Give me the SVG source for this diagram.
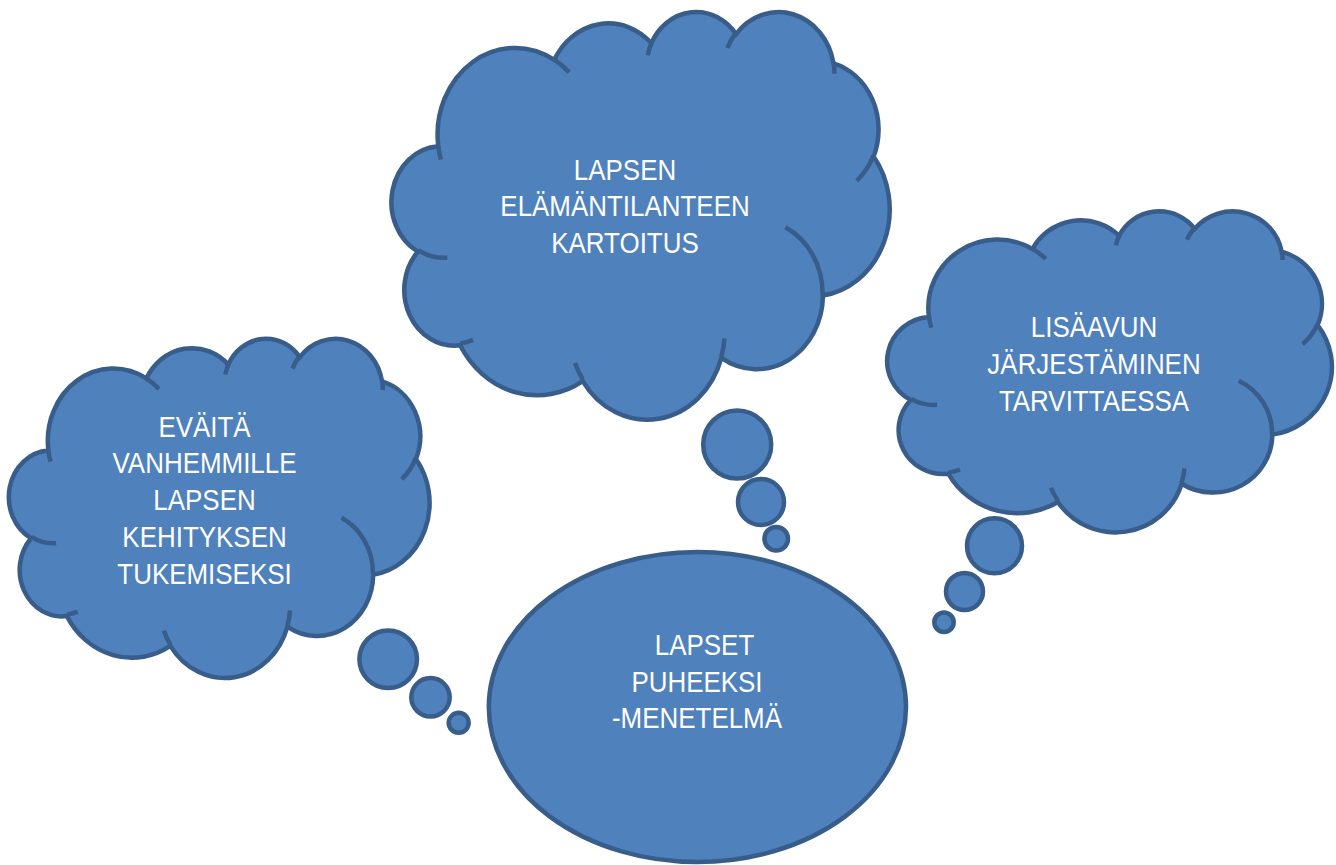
<svg xmlns="http://www.w3.org/2000/svg" xmlns:xlink="http://www.w3.org/1999/xlink" width="1336" height="865" viewBox="0 0 1336 865">
  <style>
    .shape { fill: #4F81BD; stroke: #385D8A; stroke-width: 4.5; }
    .detail { fill: none; stroke: #385D8A; stroke-width: 4.5; }
    .ns { vector-effect: non-scaling-stroke; }
    .label { fill: #FFFFFF; font-family: "Liberation Sans", Arial, sans-serif; font-size: 30px; text-anchor: middle; }
  </style>
  <defs>
    <path id="cloudOutline" class="shape ns" d="M3900 14370 A6753 9190 0 0 1 14005 5203 A5333 7267 0 0 1 22456 3433 A4365 5945 0 0 1 29833 2481 A4857 6595 0 0 1 38319 5575 A5333 7273 0 0 1 41819 15459 A6775 9220 0 0 1 37405 30202 A5785 7867 0 0 1 28556 36812 A6752 9215 0 0 1 16481 39265 A7720 10543 0 0 1 5805 35469 A4360 5918 0 0 1 2114 25547 A4345 5945 0 0 1 3900 14370 Z"/>
    <path id="cloudDetail" class="detail ns" d="M4693 26177 A4345 5945 0 0 1 2160 25380 M6928 34899 A4360 5918 0 0 1 5820 35281 M16478 39090 A6752 9215 0 0 1 15809 37349 M28827 34751 A6752 9215 0 0 1 28560 36660 M34129 22954 A5785 7867 0 0 1 37380 30090 M41798 15354 A5333 7273 0 0 1 40349 18031 M38324 5426 A4857 6595 0 0 1 38401 6690 M29078 3952 A4857 6595 0 0 1 29819 2341 M22141 4720 A4365 5945 0 0 1 22500 3331 M14000 5192 A6753 9190 0 0 1 15299 6539 M4127 15789 A6753 9190 0 0 1 3900 14371"/>
  </defs>

  <g id="node-kartoitus">
    <g transform="translate(393.5 10.7) scale(0.011481 0.009433)">
      <use xlink:href="#cloudOutline" href="#cloudOutline"/>
      <use xlink:href="#cloudDetail" href="#cloudDetail"/>
    </g>
    <circle class="shape" cx="737.2" cy="444.5" r="34"/>
    <circle class="shape" cx="761" cy="502" r="23"/>
    <circle class="shape" cx="776.2" cy="538.8" r="11.8"/>
    <g transform="translate(625 0) scale(0.865 1)">
      <text class="label" x="0" y="180">LAPSEN</text>
      <text class="label" x="0" y="216.5">ELÄMÄNTILANTEEN</text>
      <text class="label" x="0" y="253">KARTOITUS</text>
    </g>
  </g>

  <g id="node-evaita">
    <g transform="translate(10.6 337.6) scale(0.009694 0.007852)">
      <use xlink:href="#cloudOutline" href="#cloudOutline"/>
      <use xlink:href="#cloudDetail" href="#cloudDetail"/>
    </g>
    <circle class="shape" cx="388.2" cy="659.2" r="28.8"/>
    <circle class="shape" cx="430.5" cy="697.3" r="19.2"/>
    <circle class="shape" cx="458.7" cy="722.8" r="10"/>
    <g transform="translate(204.5 0) scale(0.865 1)">
      <text class="label" x="0" y="436.7">EVÄITÄ</text>
      <text class="label" x="0" y="473.3">VANHEMMILLE</text>
      <text class="label" x="0" y="510">LAPSEN</text>
      <text class="label" x="0" y="547.3">KEHITYKSEN</text>
      <text class="label" x="0" y="584">TUKEMISEKSI</text>
    </g>
  </g>

  <g id="node-lisaapu">
    <g transform="translate(889 210.3) scale(0.010248 0.007428)">
      <use xlink:href="#cloudOutline" href="#cloudOutline"/>
      <use xlink:href="#cloudDetail" href="#cloudDetail"/>
    </g>
    <circle class="shape" cx="994.5" cy="545.8" r="27.5"/>
    <circle class="shape" cx="964.5" cy="591.5" r="18.5"/>
    <circle class="shape" cx="944" cy="622.3" r="9.7"/>
    <g transform="translate(1094 0) scale(0.865 1)">
      <text class="label" x="0" y="337">LISÄAVUN</text>
      <text class="label" x="0" y="374">JÄRJESTÄMINEN</text>
      <text class="label" x="0" y="411">TARVITTAESSA</text>
    </g>
  </g>

  <g id="node-lapset-puheeksi">
    <ellipse class="shape" cx="697.4" cy="707" rx="208.6" ry="155"/>
    <g transform="translate(697 0) scale(0.865 1)">
      <text class="label" x="8.7" y="655">LAPSET</text>
      <text class="label" x="0" y="691.7">PUHEEKSI</text>
      <text class="label" x="0" y="728.3">-MENETELMÄ</text>
    </g>
  </g>
</svg>
